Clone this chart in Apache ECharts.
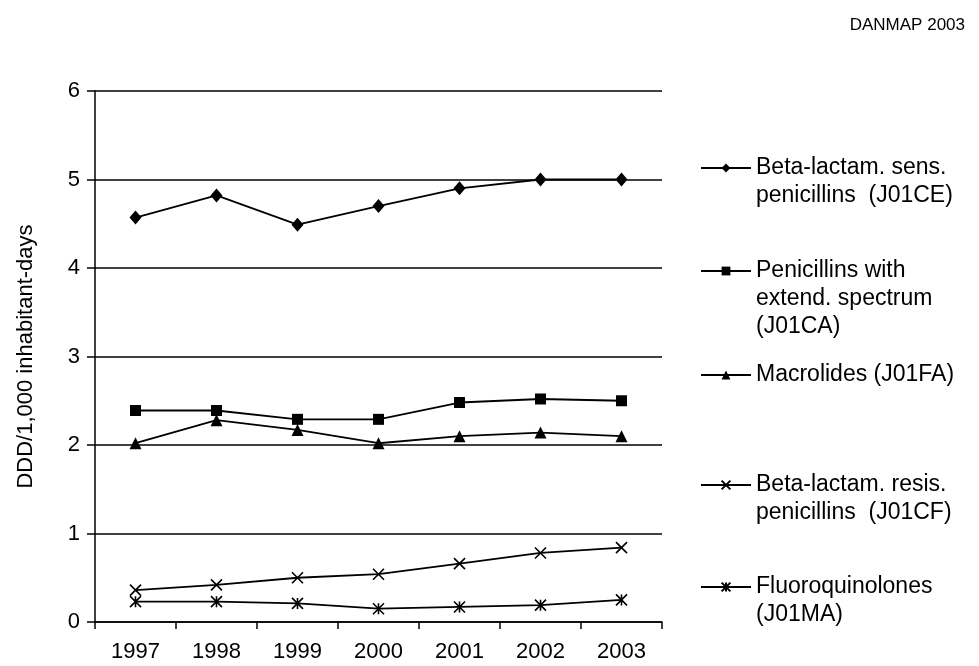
<!DOCTYPE html>
<html>
<head>
<meta charset="utf-8">
<script src="https://cdn.jsdelivr.net/npm/echarts@6/dist/echarts.min.js"></script>
<style>
  html, body { margin: 0; padding: 0; background: #fff; }
  #chart { width: 979px; height: 666px; }
</style>
</head>
<body>
<div id="chart"></div>
<script>
// Consumption of antibacterials, DDD per 1,000 inhabitant-days
const years = ['1997', '1998', '1999', '2000', '2001', '2002', '2003'];

const betaLactamSens = [4.57, 4.82, 4.49, 4.70, 4.90, 5.00, 5.00];
const penicillinsExtended = [2.39, 2.39, 2.29, 2.29, 2.48, 2.52, 2.50];
const macrolides = [2.02, 2.28, 2.17, 2.02, 2.10, 2.14, 2.10];
const betaLactamResis = [0.36, 0.42, 0.50, 0.54, 0.66, 0.78, 0.84];
const fluoroquinolones = [0.23, 0.23, 0.21, 0.15, 0.17, 0.19, 0.25];

const seriesNames = [
  'Beta-lactam. sens.\npenicillins  (J01CE)',
  'Penicillins with\nextend. spectrum\n(J01CA)',
  'Macrolides (J01FA)',
  'Beta-lactam. resis.\npenicillins  (J01CF)',
  'Fluoroquinolones\n(J01MA)'
];

const yTicks = ['0', '1', '2', '3', '4', '5', '6'];

const FONT = '"Liberation Sans", Arial, sans-serif';
const INK = '#000';

const crossPath = 'path://M0,0L10,10M10,0L0,10';
const starPath = 'path://M0,0L10,10M10,0L0,10M5,0L5,10';

function lineSeries(name, data, symbol, size, hollow) {
  return {
    name: name,
    type: 'line',
    data: data,
    symbol: symbol,
    symbolSize: size,
    showSymbol: true,
    lineStyle: { color: INK, width: 1.8 },
    itemStyle: hollow
      ? { color: 'rgba(0,0,0,0)', borderColor: INK, borderWidth: 1.6 }
      : { color: INK, borderWidth: 0 },
    emphasis: { disabled: true },
    z: 3
  };
}

// Each legend entry sits beside its own band. Legend text is centred on
// the icon, so multi-line names get leading blank lines to keep the icon
// level with their first line.
const LH = 28;
const legendRows = [
  { name: seriesNames[0], iconY: 168, lines: 2 },
  { name: seriesNames[1], iconY: 271, lines: 3 },
  { name: seriesNames[2], iconY: 375, lines: 1 },
  { name: seriesNames[3], iconY: 485, lines: 2 },
  { name: seriesNames[4], iconY: 587, lines: 2 }
];

const legends = legendRows.map(r => ({
  data: [r.name],
  left: 700,
  top: r.iconY - (LH * (2 * r.lines - 1)) / 2,
  orient: 'vertical',
  padding: 0,
  itemWidth: 50,
  itemHeight: 11,
  selectedMode: false,
  formatter: name => '\n'.repeat(r.lines - 1) + name,
  textStyle: {
    fontFamily: FONT,
    fontSize: 23,
    color: INK,
    lineHeight: LH
  }
}));

const chart = echarts.init(document.getElementById('chart'), null, { renderer: 'canvas' });

chart.setOption({
  animation: false,
  backgroundColor: '#fff',
  title: {
    text: 'DANMAP 2003',
    right: 9,
    top: 12,
    textStyle: { fontFamily: FONT, fontSize: 17, fontWeight: 'normal', color: INK }
  },
  legend: legends,
  grid: { left: 95, right: 317, top: 91, bottom: 44, containLabel: false },
  xAxis: {
    type: 'category',
    data: years,
    boundaryGap: true,
    axisLine: { lineStyle: { color: INK, width: 1.5 } },
    axisTick: { show: true, alignWithLabel: false, length: 7, lineStyle: { color: INK, width: 1.5 } },
    axisLabel: { fontFamily: FONT, fontSize: 22, color: INK, margin: 19 },
    splitLine: { show: false }
  },
  yAxis: {
    type: 'value',
    min: 0,
    max: 6,
    interval: 1,
    name: 'DDD/1,000 inhabitant-days',
    nameLocation: 'middle',
    nameGap: 58,
    nameRotate: 90,
    nameTextStyle: { fontFamily: FONT, fontSize: 22, color: INK },
    axisLine: { show: true, lineStyle: { color: INK, width: 1.5 } },
    axisTick: { show: true, length: 8, lineStyle: { color: INK, width: 1.5 } },
    axisLabel: {
      fontFamily: FONT, fontSize: 22, color: INK, margin: 15,
      formatter: v => yTicks[v]
    },
    splitLine: { show: true, lineStyle: { color: INK, width: 1.5 } }
  },
  series: [
    lineSeries(seriesNames[0], betaLactamSens, 'diamond', [12, 14], false),
    lineSeries(seriesNames[1], penicillinsExtended, 'rect', 11, false),
    lineSeries(seriesNames[2], macrolides, 'triangle', 12, false),
    lineSeries(seriesNames[3], betaLactamResis, crossPath, 11, true),
    lineSeries(seriesNames[4], fluoroquinolones, starPath, 11, true)
  ]
});
</script>
</body>
</html>
